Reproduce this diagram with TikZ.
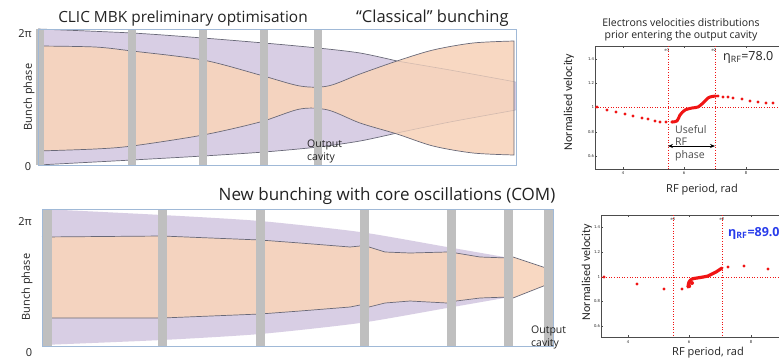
\documentclass[tikz,border=0pt]{standalone}
\usepackage{fontspec}
\setmainfont{Open Sans}
\newfontfamily\narrowfont{Carlito}
\usetikzlibrary{arrows.meta}
\definecolor{purpF}{RGB}{216,206,228}
\definecolor{orF}{RGB}{248,212,188}
\definecolor{barG}{RGB}{191,191,191}
\definecolor{boxB}{RGB}{160,185,215}
\definecolor{lineG}{RGB}{105,105,120}
\definecolor{txtG}{RGB}{35,35,35}
\definecolor{dotR}{RGB}{240,20,20}
\definecolor{etaB}{RGB}{40,60,235}
\tikzset{
  purpfill/.style={fill=purpF,draw=none},
  orfill/.style={fill=orF,fill opacity=0.9,draw=none},
  outl/.style={draw=lineG,line width=0.7pt},
  cavbar/.style={fill=barG,draw=none},
  panelbox/.style={draw=boxB,line width=0.6pt},
  ttl/.style={font=\fontsize{15.4}{17}\selectfont,text=txtG,inner sep=0pt},
  lbl/.style={font=\fontsize{11}{12}\selectfont,text=txtG,inner sep=0pt},
  small/.style={font=\fontsize{10.5}{12.5}\selectfont,text=txtG,inner sep=0pt,align=left},
  tick/.style={font=\narrowfont\fontsize{4.5}{5}\selectfont,text=txtG,inner sep=0pt},
  axbox/.style={draw=black!70,line width=0.6pt},
  rdot/.style={dotted,draw=dotR,line width=0.6pt},
  pt/.style={fill=dotR,draw=none},
}
\begin{document}
\begin{tikzpicture}[x=1pt,y=-1pt]
\useasboundingbox (0,0) rectangle (779,360);
\clip (0,0) rectangle (779,360);
\fill[white] (0,0) rectangle (779,360);

% ===== Top panel =====
\path[purpfill] plot[smooth,tension=0.5] coordinates {(38,29) (132,33) (203,38) (264,43) (318,48) (360,53) (397,61) (450,70) (516,82)}
  -- (516,110) -- plot[smooth,tension=0.5] coordinates {(516,110) (450,122) (397,133) (360,141) (318,147) (264,152) (203,156) (132,160) (38,165)} -- cycle;
\path[outl] plot[smooth,tension=0.5] coordinates {(38,29) (132,33) (203,38) (264,43) (318,48) (360,53) (397,61)};
\path[outl] plot[smooth,tension=0.5] coordinates {(38,165) (132,160) (203,156) (264,152) (318,147) (360,141) (397,133)};
\path[orfill] plot[smooth,tension=0.5] coordinates {(38,46) (95,47) (132,51) (203,60) (260,75) (300,86) (328,86) (360,74) (397,61) (433,50) (473,43) (514,41)}
  -- (514,155) -- plot[smooth,tension=0.5] coordinates {(514,155) (473,153) (433,146) (397,134) (360,123) (328,110) (300,109) (260,122) (203,135) (132,146) (95,149) (38,151)} -- cycle;
\path[outl] plot[smooth,tension=0.5] coordinates {(38,46) (95,47) (132,51) (203,60) (260,75) (300,86) (328,86) (360,74) (397,61) (433,50) (473,43) (514,41)}
  -- (514,155) -- plot[smooth,tension=0.5] coordinates {(514,155) (473,153) (433,146) (397,134) (360,123) (328,110) (300,109) (260,122) (203,135) (132,146) (95,149) (38,151)};
\path[draw=lineG,draw opacity=0.25,line width=0.6pt] plot[smooth,tension=0.5] coordinates {(397,61) (450,70) (516,82)};
\path[draw=lineG,draw opacity=0.25,line width=0.6pt] plot[smooth,tension=0.5] coordinates {(397,133) (450,122) (516,110)};
\foreach \c in {40,132,203,264,318} { \fill[cavbar] (\c-4.3,29) rectangle (\c+4.3,165); }
\draw[panelbox] (38,29) rectangle (516,165);

\node[ttl] (t1) at (183,18) {CLIC MBK preliminary optimisation};
\node[ttl,font=\fontsize{16.5}{18}\selectfont,anchor=west] (t2) at (356,18) {“Classical” bunching};
\node[lbl] (p1) at (25,34) {2π};
\node[lbl] (z1) at (28,167) {0};
\node[lbl,rotate=90] (y1) at (29,97) {Bunch phase};
\node[small,anchor=north west] (oc1) at (307,140) {Output\\cavity};

% ===== Bottom panel =====
\path[purpfill] plot[smooth,tension=0.4] coordinates {(42,209) (162,215) (260,221) (360,232) (447,247) (510,258)}
  -- plot[smooth,tension=0.4] coordinates {(510,297) (447,308) (360,323) (260,334) (162,340) (42,345)} -- cycle;
\path[orfill] (42,237) -- (162,236) -- (260,240) -- (300,243) -- (350,247) -- (360,246) -- (369,247) -- (385,252) -- (410,253) -- (447,252) -- (456,253) -- (480,257) -- (508,258) -- (513,257) -- (546,268)
  -- (546,285) -- (513,298) -- (508,297) -- (480,298) -- (456,301) -- (447,303) -- (410,301) -- (385,303) -- (369,307) -- (360,305) -- (350,307) -- (300,311) -- (260,314) -- (162,318) -- (42,318) -- cycle;
\path[outl] (42,237) -- (162,236) -- (260,240) -- (300,243) -- (350,247) -- (360,246) -- (369,247) -- (385,252) -- (410,253) -- (447,252) -- (456,253) -- (480,257) -- (508,258) -- (513,257) -- (546,268);
\path[outl] (42,318) -- (162,318) -- (260,314) -- (300,311) -- (350,307) -- (360,305) -- (369,307) -- (385,303) -- (410,301) -- (447,303) -- (456,301) -- (480,298) -- (508,297) -- (513,298) -- (546,285);
\foreach \c in {47,162,260,364,451,508,548} { \fill[cavbar] (\c-4.5,209) rectangle (\c+4.5,346); }
\draw[panelbox] (42,209) rectangle (553,346);

\node[ttl,font=\fontsize{17}{19}\selectfont] (t3) at (387,196) {New bunching with core oscillations (COM)};
\node[lbl] (p2) at (25,222) {2π};
\node[lbl] (z2) at (29,353) {0};
\node[lbl,rotate=90] (y2) at (27,287) {Bunch phase};
\node[small,anchor=north west] (oc2) at (531,326) {Output\\cavity};

% ===== Top right plot =====
\node[lbl,font=\fontsize{10.5}{12.5}\selectfont,align=center] (pt1) at (681,30) {Electrons velocities distributions\\prior entering the output cavity};
\draw[axbox] (800,46) -- (595,46) -- (595,169) -- (800,169);
\foreach \x/\t in {623/4,684/6,746/8} {
  \draw[black!70,line width=0.4pt] (\x,169) -- (\x,167);
  \draw[black!70,line width=0.4pt] (\x,46) -- (\x,48);
  \node[tick] at (\x,173) {\t};
}
\foreach \y/\t in {59/1.4,83/1.2,107/1,132/0.8,156/0.6} {
  \draw[black!70,line width=0.4pt] (595,\y) -- (597,\y);
  \node[tick,anchor=east] at (594,\y) {\t};
}
\draw[rdot] (668,46) -- (668,169);
\draw[rdot] (715,46) -- (715,169);
\draw[rdot] (595,107) -- (790,107);
\node[tick] at (667,50) {e1};
\node[tick] at (714,50) {e2};
\foreach \x/\y in {597/107,607/110,616/112,625/114,633/116,642/118,648/119,655/121,660/122,666/122,672/122,718/96,723/97,728/97,733/98,742/99,750/101,758/102,766/103,773/103} {
  \fill[pt] (\x,\y) circle (1.6);
}
\draw[dotR,line width=3pt,line cap=round,line join=round] plot[smooth,tension=0.5] coordinates {(672,122) (677,121) (680,115) (685,110) (692,108) (698,107) (703,103) (708,98) (712,96.5) (716,96)};
\node[lbl,font=\fontsize{12.5}{14}\selectfont,anchor=west] (eta1) at (723,57) {η\textsubscript{RF}=78.0};
\node[small,anchor=north west,text=black!70] (uf) at (675,125) {Useful\\RF\\phase};
\coordinate (ua) at (668,146);
\coordinate (ub) at (715,146);
\draw[black,line width=0.8pt,{Stealth[length=5pt,width=4pt]}-{Stealth[length=5pt,width=4pt]}] (ua) -- (ub);
\node[lbl,rotate=90,font=\narrowfont\fontsize{12}{13}\selectfont] (yl1) at (569,102) {Normalised velocity};
\node[lbl,font=\fontsize{11}{12}\selectfont] (xl1) at (702,190) {RF period, rad};

% ===== Bottom right plot =====
\draw[axbox] (800,215) -- (601,215) -- (601,337) -- (800,337);
\foreach \x/\t in {628/4,689/6,751/8} {
  \draw[black!70,line width=0.4pt] (\x,337) -- (\x,335);
  \draw[black!70,line width=0.4pt] (\x,215) -- (\x,217);
  \node[tick] at (\x,342) {\t};
}
\foreach \y/\t in {227/1.4,252/1.2,277/1,301/0.8,326/0.6} {
  \draw[black!70,line width=0.4pt] (601,\y) -- (603,\y);
  \node[tick,anchor=east] at (600,\y) {\t};
}
\draw[rdot] (673,215) -- (673,337);
\draw[rdot] (722,215) -- (722,337);
\draw[rdot] (601,277) -- (790,277);
\node[tick] at (673,219) {e1};
\node[tick] at (722,219) {e2};
\foreach \x/\y in {604/277,637/284,664/289,682/289,728/267,744/266,768/269} {
  \fill[pt] (\x,\y) circle (1.6);
}
\draw[dotR,line width=3.2pt,line cap=round,line join=round] plot[smooth,tension=0.5] coordinates {(688,287) (689,282) (692,279) (697,278) (703,277) (708,276) (712,274) (716,272) (719,270) (722,268)};
\fill[pt] (689,286) circle (2.2);
\fill[pt] (692,283) circle (2);
\node[lbl,font=\bfseries\fontsize{12.5}{14}\selectfont,text=etaB,anchor=west] (eta2) at (728,233) {η\textsubscript{RF}=89.0};
\node[lbl,rotate=90,font=\narrowfont\fontsize{12}{13}\selectfont] (yl2) at (587,272) {Normalised velocity};
\node[lbl,font=\fontsize{11}{12}\selectfont] (xl2) at (708,353) {RF period, rad};
\end{tikzpicture}
\end{document}
